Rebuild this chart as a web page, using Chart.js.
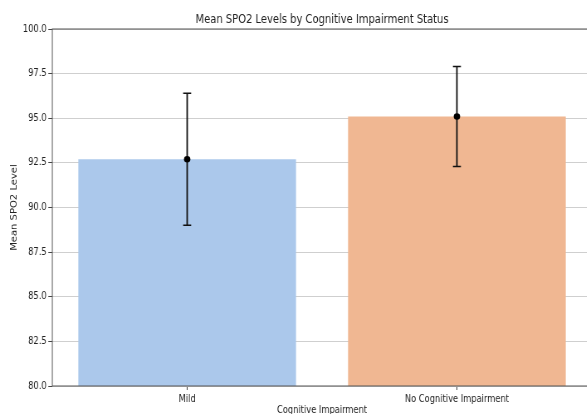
<!DOCTYPE html>
<html>
<head>
<meta charset="utf-8">
<script src="https://cdn.jsdelivr.net/npm/chart.js@4.4.1/dist/chart.umd.min.js"></script>
<style>
  html, body { margin: 0; padding: 0; background: #fff; overflow: hidden; }
  /* the reference text looks squeezed sideways, so the chart is drawn wider and scaled down */
  #wrap { position: absolute; left: 0; top: 0; width: 722px; height: 430px; transform: scaleX(0.83); transform-origin: 0 0; }
</style>
</head>
<body>
<div id="wrap"><canvas id="chart"></canvas></div>
<script>
// data
const categories = ['Mild', 'No Cognitive Impairment'];
const meanSpo2 = [92.7, 95.1];
const errLow = [89.0, 92.3];
const errHigh = [96.4, 97.9];
const barColors = ['#abc8eb', '#f0b792'];
const yMin = 80, yMax = 100, yStep = 2.5;

const SX = 0.83;
const FONT = '"DejaVu Sans", sans-serif';
const chartTitle = 'Mean SPO2 Levels by Cognitive Impairment Status';

// frame, error bars and title
const errorBars = {
  id: 'errorBars',
  afterDraw(chart){
    const ctx = chart.ctx, y = chart.scales.y, a = chart.chartArea;
    ctx.save();
    ctx.strokeStyle = '#555';
    ctx.lineWidth = 1;
    ctx.strokeRect(a.left, a.top, a.right - a.left, a.bottom - a.top);

    chart.getDatasetMeta(0).data.forEach((bar, i)=>{
      const x = bar.x;
      const lo = y.getPixelForValue(errLow[i]);
      const hi = y.getPixelForValue(errHigh[i]);
      const m = y.getPixelForValue(meanSpo2[i]);
      ctx.strokeStyle = '#111';
      ctx.lineWidth = 1.5 / SX;
      ctx.beginPath(); ctx.moveTo(x, lo); ctx.lineTo(x, hi); ctx.stroke();
      ctx.lineWidth = 1.5;
      const cw = 4 / SX;
      ctx.beginPath();
      ctx.moveTo(x - cw, lo); ctx.lineTo(x + cw, lo);
      ctx.moveTo(x - cw, hi); ctx.lineTo(x + cw, hi);
      ctx.stroke();
      ctx.fillStyle = '#000';
      ctx.beginPath(); ctx.ellipse(x, m, 3.2 / SX, 3.2, 0, 0, Math.PI * 2); ctx.fill();
    });

    ctx.fillStyle = '#222';
    ctx.font = '12px ' + FONT;
    ctx.textAlign = 'center';
    ctx.textBaseline = 'alphabetic';
    ctx.fillText(chartTitle, (a.left + a.right) / 2, 23);
    ctx.restore();
  }
};

new Chart(document.getElementById('chart'), {
  type: 'bar',
  data: {
    labels: categories,
    datasets: [{
      data: meanSpo2,
      backgroundColor: barColors,
      borderWidth: 0,
      barPercentage: 0.807,
      categoryPercentage: 1
    }]
  },
  options: {
    responsive: true,
    maintainAspectRatio: false,
    animation: false,
    devicePixelRatio: 1,
    layout: { padding: { top: 29, right: 9, bottom: 10, left: 0 } },
    plugins: { legend: { display: false }, tooltip: { enabled: false }, title: { display: false } },
    scales: {
      x: {
        offset: true,
        border: { display: false },
        grid: { display: true, drawOnChartArea: false, offset: false, tickLength: 4, tickColor: '#444' },
        ticks: { color: '#222', font: { family: FONT, size: 10 }, padding: 3, maxRotation: 0 },
        title: { display: true, text: 'Cognitive Impairment', color: '#222', font: { family: FONT, size: 10 }, padding: { top: 2, bottom: 4 } },
        afterFit(s){ s.height = 34; }
      },
      y: {
        min: yMin, max: yMax,
        z: 1,
        border: { display: false },
        grid: { color: '#cfcfcf', lineWidth: 1, tickLength: 4 / SX, tickColor: '#444' },
        ticks: { stepSize: yStep, color: '#222', font: { family: FONT, size: 10 }, padding: 2,
                 callback: v => v.toFixed(1) },
        title: { display: true, text: 'Mean SPO2 Level', color: '#222', font: { family: FONT, size: 10 }, padding: { top: 11, bottom: 0 } },
        afterFit(s){ s.width = 63; }
      }
    }
  },
  plugins: [errorBars]
});
</script>
</body>
</html>
